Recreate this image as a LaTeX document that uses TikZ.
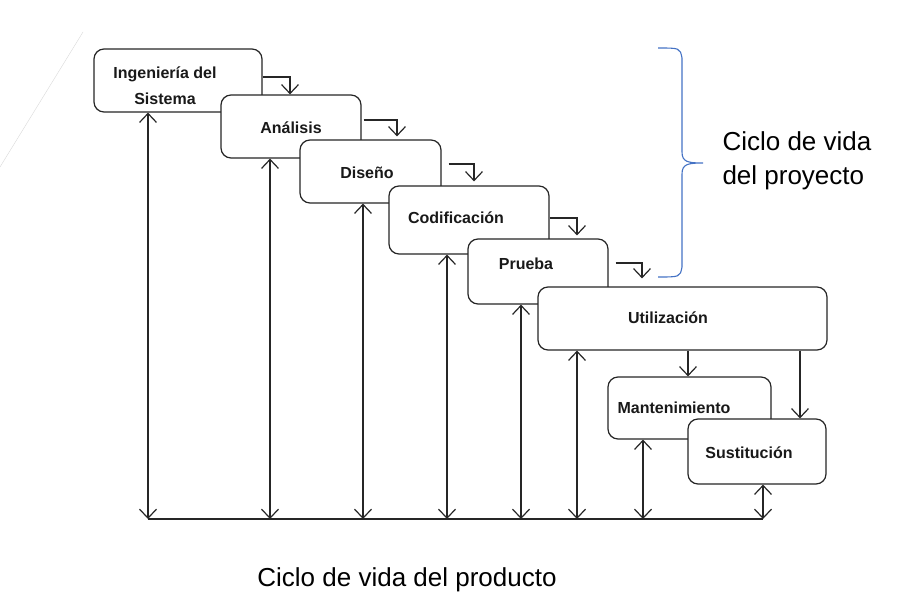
\documentclass[tikz,border=0pt]{standalone}
\usepackage{fontspec}
\setmainfont{Liberation Sans}
\usetikzlibrary{arrows.meta}
\definecolor{bracecol}{HTML}{4472C4}
\begin{document}
\begin{tikzpicture}[x=1pt,y=-1pt,
        box/.style={draw=black!85,line width=1.2pt,fill=white,rounded corners=10pt},
        lbl/.style={font=\bfseries\fontsize{16}{26}\selectfont,text=black!90,anchor=base,align=center},
        both/.style={draw=black!85,line width=1.2pt,{Straight Barb[length=9pt,width=17pt]}-{Straight Barb[length=9pt,width=17pt]}},
        stp/.style={draw=black!85,line width=1.2pt,-{Straight Barb[length=9pt,width=17pt]}},
        big/.style={font=\fontsize{26}{34}\selectfont}]
    \useasboundingbox (0,0) rectangle (899,613);
    \draw[black!15] (83,32) -- (0,167);
    \node[box,minimum width=168pt,minimum height=63pt] (ing) at (178,80.5) {};
    \node[box,minimum width=140pt,minimum height=63pt] (ana) at (291,126.5) {};
    \node[box,minimum width=141pt,minimum height=63pt] (dis) at (370.5,171.5) {};
    \node[box,minimum width=160pt,minimum height=68pt] (cod) at (469,220) {};
    \node[box,minimum width=140pt,minimum height=65pt] (pru) at (538,271.5) {};
    \node[box,minimum width=289pt,minimum height=63pt] (uti) at (682.5,318.5) {};
    \node[box,minimum width=163pt,minimum height=62pt] (man) at (689.5,408) {};
    \node[box,minimum width=138pt,minimum height=65pt] (sus) at (757,451.5) {};
    \node[lbl,anchor=center] (ingt) at (165,85.5) {Ingeniería del\\Sistema};
    \node[lbl] (anat) at (291,133) {Análisis};
    \node[lbl] (dist) at (367,178) {Diseño};
    \node[lbl] (codt) at (456,223) {Codificación};
    \node[lbl] (prut) at (526,269) {Prueba};
    \node[lbl] (utit) at (668,323) {Utilización};
    \node[lbl] (mant) at (674,413) {Mantenimiento};
    \node[lbl] (sust) at (749,458) {Sustitución};
    \draw[stp] (ing.east |- 0,77) -| (290,0 |- ana.north);
    \draw[stp,shorten <=2pt,shorten >=3pt] (ana.east |- 0,120) -| (397,0 |- dis.north);
    \draw[stp,shorten <=7pt,shorten >=4pt] (dis.east |- 0,164) -| (474,0 |- cod.north);
    \draw[stp,shorten >=3pt] (cod.east |- 0,218) -| (577,0 |- pru.north);
    \draw[stp,shorten <=7pt,shorten >=8pt] (pru.east |- 0,263) -| (642,0 |- uti.north);
    \draw[stp] (688,0 |- uti.south) -- (688,0 |- man.north);
    \draw[stp] (800,0 |- uti.south) -- (800,0 |- sus.north);
    \coordinate (bl) at (148,519);
    \coordinate (br) at (763,519);
    \draw[black!85,line width=1.2pt] (bl) -- (br);
    \foreach \n/\x in {ing/148,ana/270,dis/363,cod/447,pru/521,uti/577,man/643,sus/763}
        \draw[both] (\x,0 |- \n.south) -- (\x,0 |- bl);
    \draw[bracecol,line width=1.1pt] (658,48) .. controls (680,48) .. (682,58) -- (682,152)
        .. controls (682,162) and (688,163) .. (703,163)
        .. controls (688,163) and (682,164) .. (682,174) -- (682,267)
        .. controls (680,277) .. (658,277);
    \node[big,anchor=west,align=left] (proy) at (719,161) {Ciclo de vida\\del proyecto};
    \node[big,anchor=base] (prod) at (407,586) {Ciclo de vida del producto};
\end{tikzpicture}
\end{document}
